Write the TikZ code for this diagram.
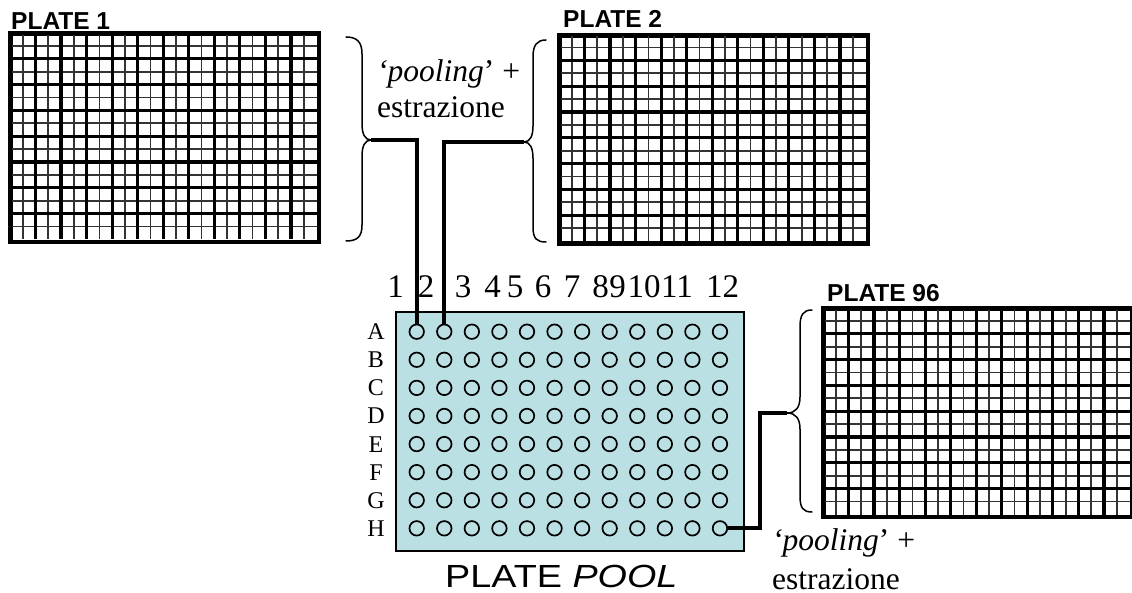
\documentclass[tikz,border=0pt]{standalone}
\usepackage{fontspec}
\setmainfont{Liberation Serif}
\newfontfamily\arialfont{Liberation Sans}
\definecolor{poolblue}{RGB}{187,224,228}
\tikzset{
  gridfine/.style={line width=1.7bp, black!80},
  gridbold/.style={line width=3.2bp, black},
  plateframe/.style={draw, line width=3.2bp, inner sep=0pt, minimum width=306.5bp, minimum height=206.5bp, anchor=north west},
  poolplate/.style={draw, fill=poolblue, line width=1.6bp, inner sep=0pt, minimum width=348bp, minimum height=239bp, anchor=north west},
  well/.style={circle, draw, line width=1.7bp, minimum size=14.5bp, inner sep=0pt},
  bracestyle/.style={line width=1.5bp, line cap=round, line join=round},
  link/.style={line width=3.8bp, line join=miter},
  platetitle/.style={anchor=base west, inner sep=0pt, font=\arialfont\bfseries\fontsize{24.5bp}{27bp}\selectfont},
  serifnote/.style={anchor=base west, inner sep=0pt, font=\fontsize{31.5bp}{36bp}\selectfont},
  collabel/.style={anchor=base, inner sep=0pt, font=\fontsize{33bp}{36bp}\selectfont},
  rowlabel/.style={anchor=base, inner sep=0pt, font=\fontsize{24bp}{28bp}\selectfont},
  wellgrid/.pic={
    \foreach \i in {1,3,...,23} \draw[gridfine] ({\i*306.5/24},0) -- ({\i*306.5/24},206.5);
    \foreach \j in {1,3,...,15} \draw[gridfine] (0,{\j*206.5/16}) -- (306.5,{\j*206.5/16});
    \foreach \i in {1,...,11} \draw[gridbold] ({\i*306.5/12},0) -- ({\i*306.5/12},206.5);
    \foreach \j in {1,...,7} \draw[gridbold] (0,{\j*206.5/8}) -- (306.5,{\j*206.5/8});
  }
}
\begin{document}
\begin{tikzpicture}[x=1bp,y=-1bp]
  \fill[white] (0,0) rectangle (1132,593);
  \useasboundingbox (0,0) rectangle (1132,593);

  % --- 384-well source plates ---
  \node[plateframe] (plate1) at (10,33) {};
  \pic at (plate1.north west) {wellgrid};
  \draw[gridbold] (plate1.north west) rectangle (plate1.south east);
  \node[platetitle] (title1) at (11,30) {PLATE 1};

  \node[plateframe] (plate2) at (559,34.5) {};
  \pic at (plate2.north west) {wellgrid};
  \draw[gridbold] (plate2.north west) rectangle (plate2.south east);
  \node[platetitle] (title2) at (563,28) {PLATE 2};

  \node[plateframe] (plate96) at (823,308) {};
  \pic at (plate96.north west) {wellgrid};
  \draw[gridbold] (plate96.north west) rectangle (plate96.south east);
  \node[platetitle] (title96) at (827,302) {PLATE 96};

  % --- braces grouping each source plate ---
  \draw[bracestyle] (346,37) .. controls (357,37) and (362,42) .. (362,54)
    -- (362,124) .. controls (362,134) and (365,140) .. (371,140)
    .. controls (365,140) and (362,146) .. (362,156)
    -- (362,225) .. controls (362,237) and (357,241) .. (346,241);
  \coordinate (tip1) at (371,140);

  \draw[bracestyle] (546,40) .. controls (537,40) and (533,45) .. (533,57)
    -- (533,126) .. controls (533,136) and (530,142) .. (524,142)
    .. controls (530,142) and (533,148) .. (533,158)
    -- (533,227) .. controls (533,239) and (537,242) .. (546,242);
  \coordinate (tip2) at (524,142);

  \draw[bracestyle] (812,310) .. controls (803,310) and (800,315) .. (800,327)
    -- (800,397) .. controls (800,407) and (796,413) .. (787,413)
    .. controls (796,413) and (800,419) .. (800,429)
    -- (800,496) .. controls (800,508) and (803,512) .. (812,512);
  \coordinate (tip3) at (787,413);

  % --- 96-well pool plate ---
  \node[poolplate] (pool) at (395,311) {};
  \foreach \r in {1,...,8}
    \foreach \c in {1,...,12}
      \node[well] (w-\r-\c) at ({416.7+(\c-1)*27.57},{331.7+(\r-1)*28.09}) {};

  \foreach \c/\x in {1/395.7,2/426,3/463,4/492.7,5/515,6/543,7/572,8/600.7,9/617.5,10/644,11/677,12/722.5}
    \node[collabel] (col-\c) at (\x,298) {\c};

  \foreach \r/\l in {1/A,2/B,3/C,4/D,5/E,6/F,7/G,8/H}
    \node[rowlabel] (row-\r) at (376,{331.7+(\r-1)*28.09+8}) {\l};

  \node[anchor=base west, inner sep=0pt, font=\arialfont\fontsize{32bp}{36bp}\selectfont]
    (pooltitle) at (445,587) {\scalebox{1.18}[1]{PLATE \textit{POOL}}};

  % --- transfer lines ---
  \draw[link] (tip1) -| (w-1-1.north);
  \draw[link] (tip2) -| (w-1-2.north);
  \draw[link] (tip3) -- ++(-27,0) |- (w-8-12.east);

  % --- process notes ---
  \node[serifnote] (note1a) at (377,82) {\textit{‘pooling}’ +};
  \node[serifnote] (note1b) at (377,118) {estrazione};
  \node[serifnote] (note2a) at (772,550) {\textit{‘pooling}’ +};
  \node[serifnote] (note2b) at (772,589) {estrazione};
\end{tikzpicture}
\end{document}
